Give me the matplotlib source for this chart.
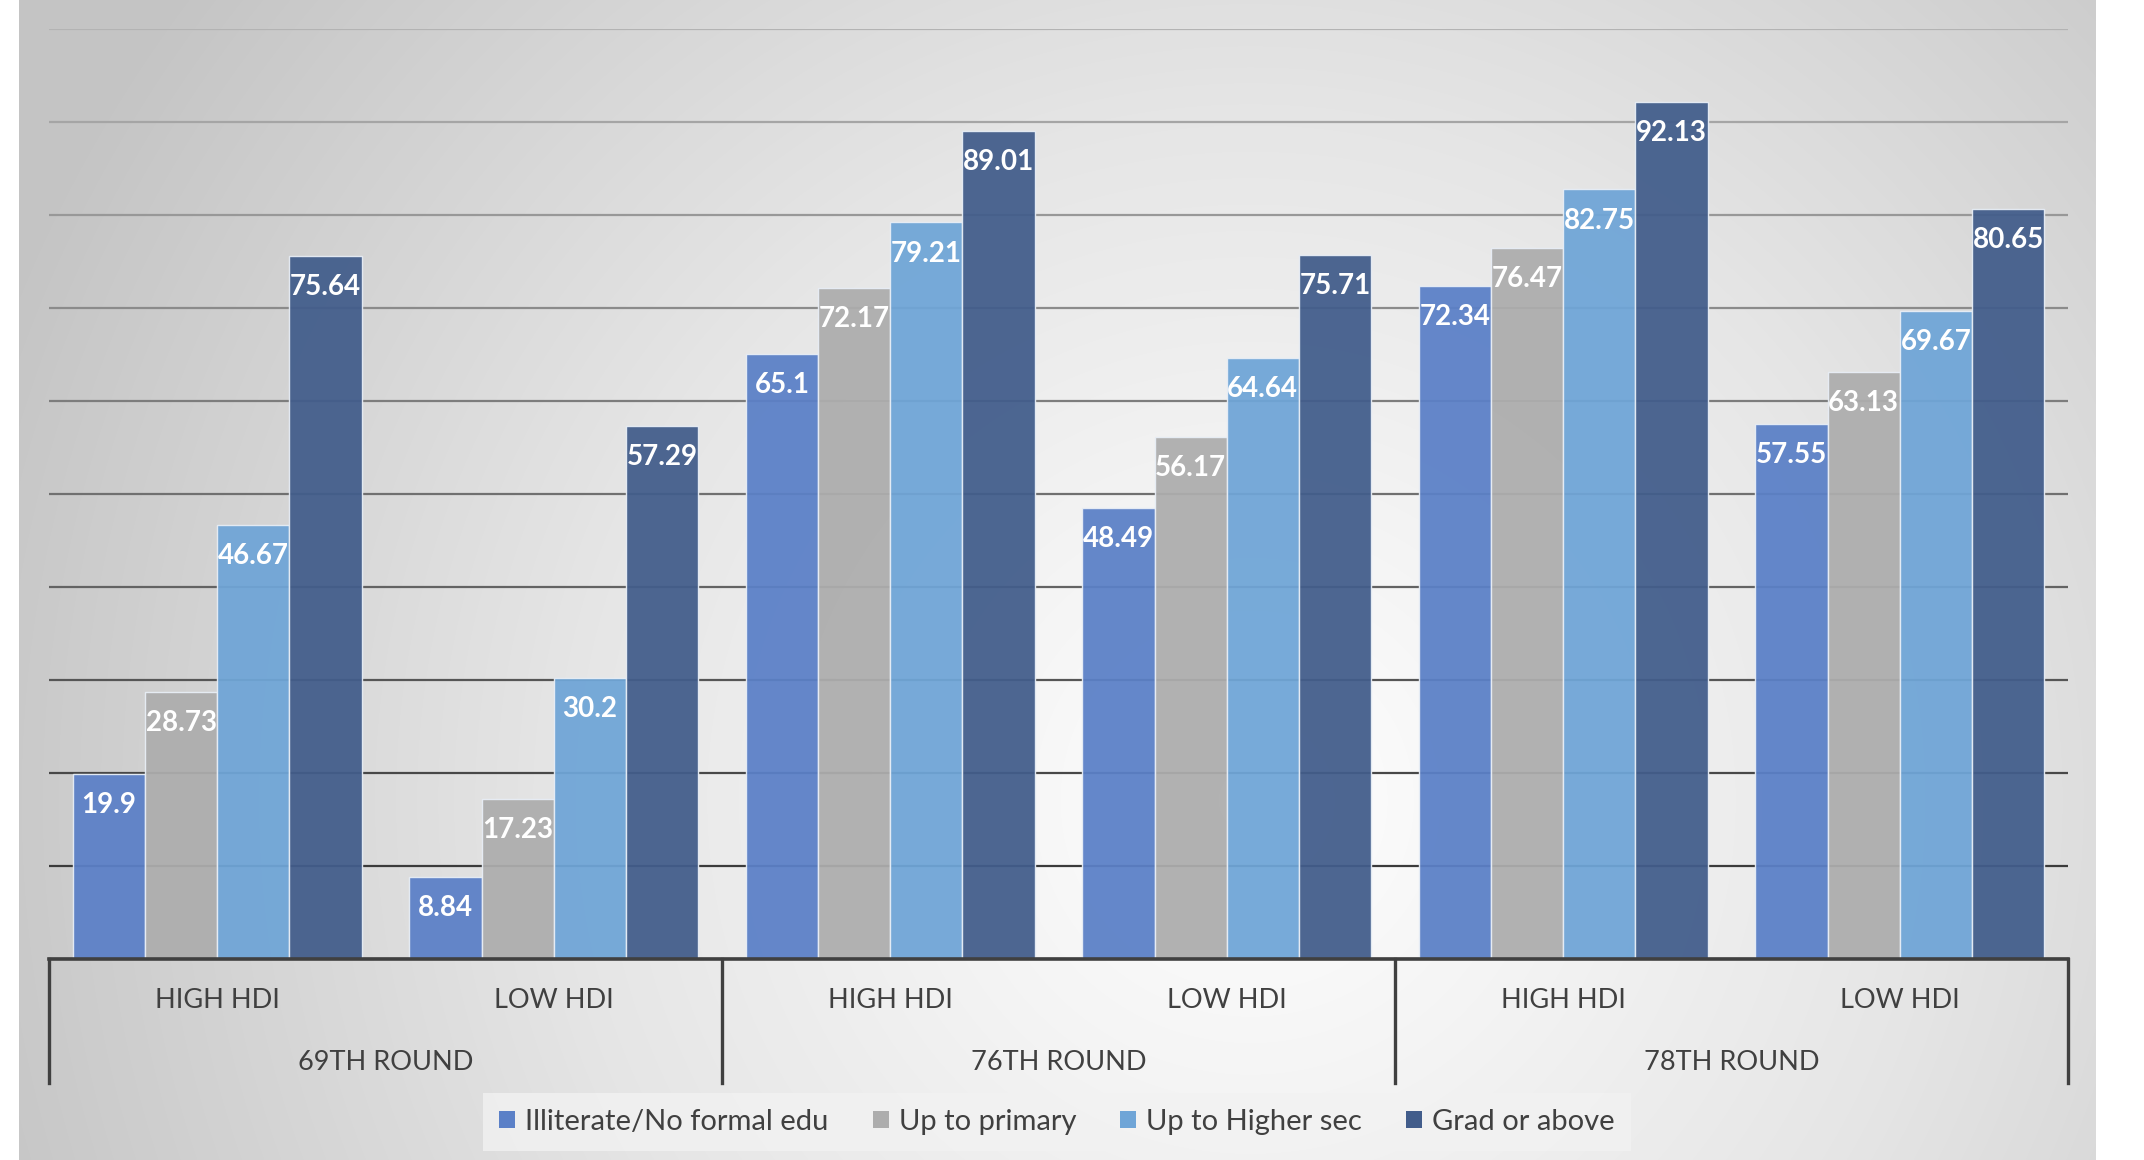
import numpy as np
import matplotlib
matplotlib.use("Agg")
import matplotlib.pyplot as plt
import matplotlib.transforms as mtransforms
from matplotlib.colors import LinearSegmentedColormap

plt.rcParams['font.family'] = ['Lato', 'DejaVu Sans']

# ---- data ----
rounds = ["69TH ROUND", "76TH ROUND", "78TH ROUND"]
hdi = ["HIGH HDI", "LOW HDI"]
series_names = ["Illiterate/No formal edu", "Up to primary", "Up to Higher sec", "Grad or above"]
illiterate = [19.9, 8.84, 65.1, 48.49, 72.34, 57.55]
primary = [28.73, 17.23, 72.17, 56.17, 76.47, 63.13]
higher_sec = [46.67, 30.2, 79.21, 64.64, 82.75, 69.67]
grad = [75.64, 57.29, 89.01, 75.71, 92.13, 80.65]
yticks = [0, 10, 20, 30, 40, 50, 60, 70, 80, 90, 100]

colors = ["#5b80c7", "#adadad", "#6fa5d7", "#425d8b"]

W, H = 2144, 1160
fig = plt.figure(figsize=(W / 100, H / 100), dpi=100)
fig.patch.set_facecolor("white")

# ---- radial gradient background panel ----
px0, px1 = 19, 2096
bg = fig.add_axes([px0 / W, 0, (px1 - px0) / W, 1], zorder=0)
xx, yy = np.meshgrid(np.arange(px0, px1), np.arange(0, H))
cx, cy = 1250, 800
d = np.sqrt((xx - cx) ** 2 + (yy - cy) ** 2) / 1350.0
d = np.clip(d, 0, 1)
cmap = LinearSegmentedColormap.from_list("g", ["#ffffff", "#e6e6e6", "#c4c4c4"])
bg.imshow(d, cmap=cmap, vmin=0, vmax=1, aspect="auto", origin="upper")
bg.axis("off")

# ---- main axes ----
left, right = 49, 2068
bottom, top = 959, 29
ax = fig.add_axes([left / W, 1 - bottom / H, (right - left) / W, (bottom - top) / H], zorder=1)
ax.patch.set_alpha(0)

x = np.arange(len(illiterate))
bw = 0.2147
all_series = [illiterate, primary, higher_sec, grad]
for i, (vals, col) in enumerate(zip(all_series, colors)):
    xs = x + (i - 1.5) * bw
    bars = ax.bar(xs, vals, width=bw, color=col, edgecolor="#e8eef6", linewidth=1.0,
                  alpha=0.94, zorder=3, label=series_names[i])
    for b, v in zip(bars, vals):
        ax.annotate(f"{v:g}", xy=(b.get_x() + b.get_width() / 2, v),
                    xytext=(0, -22.5), textcoords="offset points",
                    ha="center", va="center", color="white", fontsize=20,
                    fontweight="bold", zorder=4)

ax.set_xlim(-0.5, 5.5)
ax.set_ylim(0, 100)
ax.set_yticks(yticks)
ax.set_xticks([])
ax.tick_params(axis="y", length=0, labelleft=False)
ax.yaxis.grid(True, zorder=0)
ax.set_axisbelow(True)
glines = ax.get_ygridlines()
for k, gl in enumerate(glines):
    t = k / (len(glines) - 1)
    c = (1 - t) * np.array([0.18, 0.18, 0.18]) + t * np.array([0.70, 0.70, 0.70])
    gl.set_color(c)
    gl.set_linewidth(1.6)
for s in ax.spines.values():
    s.set_visible(False)

ax.axhline(0, color="#404040", linewidth=2.6, zorder=5, clip_on=False)

# ---- multi-level category axis ----
trans = mtransforms.blended_transform_factory(ax.transData, ax.transAxes)
ax_h = bottom - top
ybot = -(1083 - bottom) / ax_h
for xb in [-0.5, 1.5, 3.5, 5.5]:
    ax.plot([xb, xb], [0, ybot], transform=trans, color="#404040", linewidth=2.4,
            clip_on=False, zorder=5)

y_inner = -(1001 - bottom) / ax_h
y_outer = -(1062 - bottom) / ax_h
for j in range(len(x)):
    ax.text(x[j], y_inner, hdi[j % 2], transform=trans, ha="center", va="center",
            fontsize=19.5, color="#404040")
for r, name in enumerate(rounds):
    ax.text(2 * r + 0.5, y_outer, name, transform=trans, ha="center", va="center",
            fontsize=19.5, color="#404040")

# ---- legend ----
leg = fig.legend(loc="center", bbox_to_anchor=(1057 / W, 1 - 1122 / H), ncol=4,
                 frameon=True, fontsize=21, handlelength=0.55, handleheight=0.55,
                 handletextpad=0.35, columnspacing=1.5, borderpad=0.55)
leg.get_frame().set_facecolor("#f2f2f2")
leg.get_frame().set_edgecolor("none")
leg.get_frame().set_alpha(0.8)
leg.get_frame().set_boxstyle("square", pad=0.0)
for t in leg.get_texts():
    t.set_color("#404040")
for h in leg.legend_handles:
    h.set_alpha(1.0)
    h.set_edgecolor("none")

fig.savefig("out.png", dpi=100)
